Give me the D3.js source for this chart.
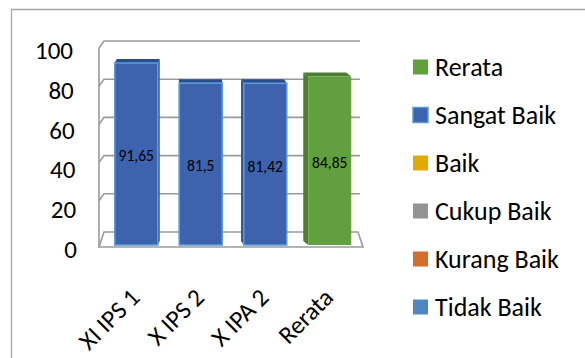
<!DOCTYPE html>
<html>
<head>
<meta charset="utf-8">
<script src="https://cdn.jsdelivr.net/npm/d3@7"></script>
<style>
  html, body { margin: 0; padding: 0; background: #fff; }
  svg { display: block; font-family: Calibri, Carlito, "Open Sans", sans-serif; }
</style>
</head>
<body>
<svg id="chart" width="585" height="358"></svg>
<script>
// Categories along the x axis
const categories = ["XI IPS 1", "X IPS 2", "X IPA 2", "Rerata"];

// Stacked series, bottom to top (legend lists them top to bottom in reverse)
const seriesNames = ["Tidak Baik", "Kurang Baik", "Cukup Baik", "Baik", "Sangat Baik", "Rerata"];
const tidakBaik  = [0, 0, 0, 0];
const kurangBaik = [0, 0, 0, 0];
const cukupBaik  = [0, 0, 0, 0];
const baik       = [0, 0, 0, 0];
const sangatBaik = [91.65, 81.5, 81.42, 0];
const rerata     = [0, 0, 0, 84.85];

// Value labels as printed on the bars
const valueLabels = ["91,65", "81,5", "81,42", "84,85"];

// Axis ticks
const yTicks = [0, 20, 40, 60, 80, 100];

// Fill colours per series (front, top, side, outline)
const palette = {
  "Tidak Baik":  { front: "#4f87c0", top: "#3b6a9c", side: "#3e6d9f", stroke: null },
  "Kurang Baik": { front: "#d46e2b", top: "#a9561f", side: "#ad5821", stroke: null },
  "Cukup Baik":  { front: "#939393", top: "#757575", side: "#777777", stroke: null },
  "Baik":        { front: "#e2aa00", top: "#b48700", side: "#b88a00", stroke: null },
  "Sangat Baik": { front: "#3d62ae", top: "#2c4d8d", side: "#2d4f90", stroke: "#5b9bd5" },
  "Rerata":      { front: "#62a03f", top: "#4b7c2f", side: "#4d7f31", stroke: null }
};

const seriesValues = [tidakBaik, kurangBaik, cukupBaik, baik, sangatBaik, rerata];

const svg = d3.select("#chart");

// Table of rows for the stack layout
const rows = categories.map((c, i) => {
  const r = { category: c };
  seriesNames.forEach((s, j) => { r[s] = seriesValues[j][i]; });
  return r;
});
const stacked = d3.stack().keys(seriesNames)(rows);

// Scales: front plane of the bars and back wall of the 3D box
const x = d3.scaleBand().domain(categories).range([104, 362]).padding(0);
const barW = 43;
const yFront = d3.scaleLinear().domain([0, 100]).range([245, 46.4]);
const yBack = d3.scaleLinear().domain([0, 100]).range([232, 41]);

// Outer chart frame
svg.append("path")
  .attr("d", "M11.5,358 V9.5 H585")
  .attr("fill", "none")
  .attr("stroke", "#a6a6a6")
  .attr("stroke-width", 1.3);

// 3D box: floor, left wall and back-wall gridlines
const boxL = 99, boxBackL = 104, boxBackR = 358, boxR = 363;
const grid = svg.append("g").attr("fill", "none").attr("stroke", "#9a9a9a").attr("stroke-width", 1.6);

grid.append("path")
  .attr("d", `M${boxBackL},${yBack(0)} H${boxBackR} L${boxR},${yFront(0) + 2} H${boxL} Z`);

grid.append("path")
  .attr("d", `M${boxL},${yBack(100) + 7} V${yFront(0) + 2}`);

grid.selectAll("path.tick")
  .data(yTicks.filter(t => t > 0))
  .join("path")
  .attr("class", "tick")
  .attr("d", t => `M${boxL},${yBack(t) + 7} L${boxBackL},${yBack(t)} H${boxBackR + 2}`);

// Perspective offset of a bar's back edge relative to its front face
const vpX = 191;
const depthX = cx => (vpX - cx) * 0.036;
const depthY = -4;

// Bars (stacked segments, zero segments skipped)
const segs = [];
stacked.forEach(layer => {
  layer.forEach((d, i) => {
    if (d[1] - d[0] > 0) segs.push({ key: layer.key, y0: d[0], y1: d[1], cat: categories[i] });
  });
});

const bars = svg.append("g");
segs.forEach(s => {
  const col = palette[s.key];
  const cx = x(s.cat) + x.bandwidth() / 2;
  const x0 = cx - barW / 2, x1 = cx + barW / 2;
  const yt = yFront(s.y1), yb = yFront(s.y0);
  const dx = depthX(cx), dy = depthY;
  const g = bars.append("g");
  // side face
  const sx = dx >= 0 ? x1 : x0;
  g.append("path")
    .attr("d", `M${sx},${yt} L${sx + dx},${yt + dy} L${sx + dx},${yb + dy} L${sx},${yb} Z`)
    .attr("fill", col.side);
  // top face
  g.append("path")
    .attr("d", `M${x0},${yt} L${x0 + dx},${yt + dy} L${x1 + dx},${yt + dy} L${x1},${yt} Z`)
    .attr("fill", col.top);
  // front face
  g.append("rect")
    .attr("x", x0).attr("y", yt)
    .attr("width", barW).attr("height", yb - yt)
    .attr("fill", col.front)
    .attr("stroke", col.stroke || "none")
    .attr("stroke-width", col.stroke ? 1.6 : 0);
});

// Value labels in the middle of each bar
const totals = rows.map(r => d3.sum(seriesNames, s => r[s]));
svg.append("g")
  .selectAll("text")
  .data(categories)
  .join("text")
  .attr("x", c => x(c) + x.bandwidth() / 2)
  .attr("y", (c, i) => (yFront(totals[i]) + yFront(0)) / 2 + 2)
  .attr("text-anchor", "middle")
  .attr("dy", "0.35em")
  .attr("font-size", 15.5)
  .attr("fill", "#000")
  .text((c, i) => valueLabels[i]);

// Y axis tick labels
svg.append("g")
  .selectAll("text")
  .data(yTicks)
  .join("text")
  .attr("x", t => 73 + (1 - t / 100) * 4)
  .attr("y", t => yFront(t) + 4)
  .attr("dy", "0.35em")
  .attr("text-anchor", "end")
  .attr("font-size", 25)
  .attr("fill", "#000")
  .text(t => t);

// Category labels, rotated
svg.append("g")
  .selectAll("text")
  .data(categories)
  .join("text")
  .attr("transform", c => `translate(${x(c) + x.bandwidth() / 2 + 5},${299}) rotate(-45)`)
  .attr("text-anchor", "end")
  .attr("font-size", 25)
  .attr("fill", "#000")
  .text(c => c);

// Legend
const legendOrder = seriesNames.slice().reverse();
const legend = svg.append("g")
  .selectAll("g")
  .data(legendOrder)
  .join("g")
  .attr("transform", (d, i) => `translate(413,${67 + i * 48})`);

legend.append("rect")
  .attr("x", 0).attr("y", -7.5)
  .attr("width", 15).attr("height", 15)
  .attr("fill", d => palette[d].front)
  .attr("stroke", d => palette[d].stroke || "none")
  .attr("stroke-width", d => palette[d].stroke ? 1.5 : 0);

legend.append("text")
  .attr("x", 22)
  .attr("y", 0)
  .attr("dy", "0.35em")
  .attr("font-size", 26)
  .attr("fill", "#000")
  .text(d => d);
</script>
</body>
</html>
